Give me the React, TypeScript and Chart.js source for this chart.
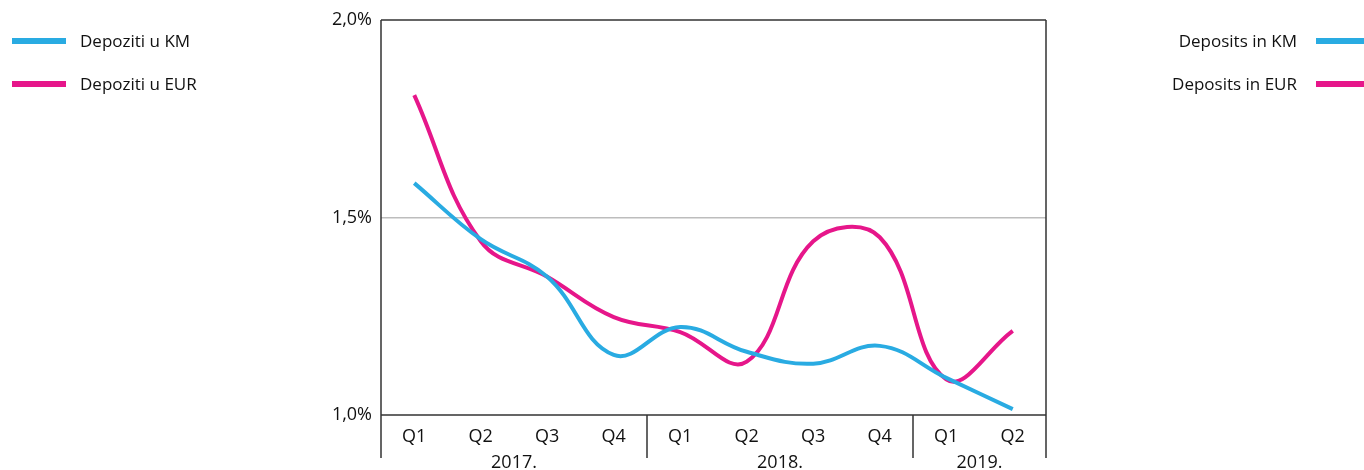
import React, { useEffect, useRef } from "react";
import { Chart, registerables } from "chart.js";

Chart.register(...registerables);

const quarters = ["Q1", "Q2", "Q3", "Q4", "Q1", "Q2", "Q3", "Q4", "Q1", "Q2"];
const years = ["2017.", "2018.", "2019."];
const yearStarts = [0, 4, 8];
const depositsKM = [1.587, 1.445, 1.35, 1.152, 1.223, 1.16, 1.13, 1.175, 1.094, 1.015];
const depositsEUR = [1.81, 1.44, 1.35, 1.248, 1.21, 1.135, 1.44, 1.45, 1.09, 1.213];
const yTicks = [1.0, 1.5, 2.0];

const seriesLabelsLeft = ["Depoziti u KM", "Depoziti u EUR"];
const seriesLabelsRight = ["Deposits in KM", "Deposits in EUR"];

const BLUE = "#29ABE2";
const PINK = "#E6168A";
const FONT = "'Open Sans', sans-serif";

const framePlugin = {
  id: "frame",
  afterDraw(chart: any) {
    const { ctx, chartArea } = chart;
    const x = chart.scales.x;
    const { left, right, top, bottom } = chartArea;
    const ext = 43;
    ctx.save();
    ctx.strokeStyle = "#333";
    ctx.lineWidth = 1.5;
    ctx.beginPath();
    ctx.moveTo(left, top);
    ctx.lineTo(right, top);
    ctx.moveTo(right, top);
    ctx.lineTo(right, bottom + ext);
    ctx.moveTo(left, top);
    ctx.lineTo(left, bottom + ext);
    ctx.moveTo(left, bottom);
    ctx.lineTo(right, bottom);
    const step = x.getPixelForValue(1) - x.getPixelForValue(0);
    for (let i = 1; i < yearStarts.length; i++) {
      const px = x.getPixelForValue(yearStarts[i]) - step / 2;
      ctx.moveTo(px, bottom);
      ctx.lineTo(px, bottom + ext);
    }
    ctx.stroke();
    ctx.fillStyle = "#111";
    ctx.font = `18px ${FONT}`;
    ctx.textAlign = "center";
    ctx.textBaseline = "middle";
    for (let i = 0; i < years.length; i++) {
      const s = x.getPixelForValue(yearStarts[i]) - step / 2;
      const endIdx = i + 1 < yearStarts.length ? yearStarts[i + 1] : quarters.length;
      const e = x.getPixelForValue(endIdx - 1) + step / 2;
      ctx.fillText(years[i], (s + e) / 2, bottom + 48);
    }
    ctx.restore();
  },
};

export default function App() {
  const ref = useRef<HTMLCanvasElement>(null);
  useEffect(() => {
    if (!ref.current) return;
    const chart = new Chart(ref.current, {
      type: "line",
      data: {
        labels: quarters,
        datasets: [
          {
            label: seriesLabelsLeft[0],
            data: depositsKM,
            borderColor: BLUE,
            borderWidth: 4,
            pointRadius: 0,
            tension: 0.4,
          },
          {
            label: seriesLabelsLeft[1],
            data: depositsEUR,
            borderColor: PINK,
            borderWidth: 4,
            pointRadius: 0,
            tension: 0.4,
          },
        ],
      },
      options: {
        animation: false,
        responsive: false,
        maintainAspectRatio: false,
        layout: { padding: { left: 0, right: 318, top: 20, bottom: 0 } },
        plugins: { legend: { display: false }, tooltip: { enabled: false } },
        scales: {
          x: {
            offset: true,
            grid: { display: false },
            border: { display: false },
            ticks: { color: "#111", font: { family: FONT, size: 18 }, padding: 3, maxRotation: 0, autoSkip: false },
            afterFit(scale: any) {
              scale.height = 55;
            },
          },
          y: {
            min: 1,
            max: 2,
            afterBuildTicks(scale: any) {
              scale.ticks = yTicks.map((v) => ({ value: v }));
            },
            grid: {
              color: (c: any) => (c.tick && c.tick.value === 1.5 ? "#BDBDBD" : "rgba(0,0,0,0)"),
              lineWidth: 1.5,
              drawTicks: false,
            },
            border: { display: false },
            ticks: {
              color: "#111",
              font: { family: FONT, size: 18 },
              padding: 9,
              callback: (v: any) => Number(v).toFixed(1).replace(".", ",") + "%",
            },
            afterFit(scale: any) {
              scale.width = 381;
            },
          },
        },
      },
      plugins: [framePlugin],
    });
    return () => chart.destroy();
  }, []);

  const legendText: React.CSSProperties = {
    position: "absolute",
    font: `17px ${FONT}`,
    color: "#111",
    lineHeight: "22px",
    whiteSpace: "nowrap",
  };
  const swatch = (color: string, left: number, top: number): React.CSSProperties => ({
    position: "absolute",
    left,
    top,
    width: 54,
    height: 6,
    background: color,
  });

  return (
    <div style={{ position: "fixed", left: 0, top: 0, width: 1364, height: 470, background: "#fff" }}>
      <canvas ref={ref} width={1364} height={470} style={{ position: "absolute", left: 0, top: 0 }} />
      <div style={swatch(BLUE, 12, 38)} />
      <div style={swatch(PINK, 12, 81)} />
      <div style={{ ...legendText, left: 80, top: 30 }}>{seriesLabelsLeft[0]}</div>
      <div style={{ ...legendText, left: 80, top: 73 }}>{seriesLabelsLeft[1]}</div>
      <div style={swatch(BLUE, 1316, 38)} />
      <div style={swatch(PINK, 1316, 81)} />
      <div style={{ ...legendText, right: 1364 - 1297, top: 30, textAlign: "right" }}>{seriesLabelsRight[0]}</div>
      <div style={{ ...legendText, right: 1364 - 1297, top: 73, textAlign: "right" }}>{seriesLabelsRight[1]}</div>
    </div>
  );
}
